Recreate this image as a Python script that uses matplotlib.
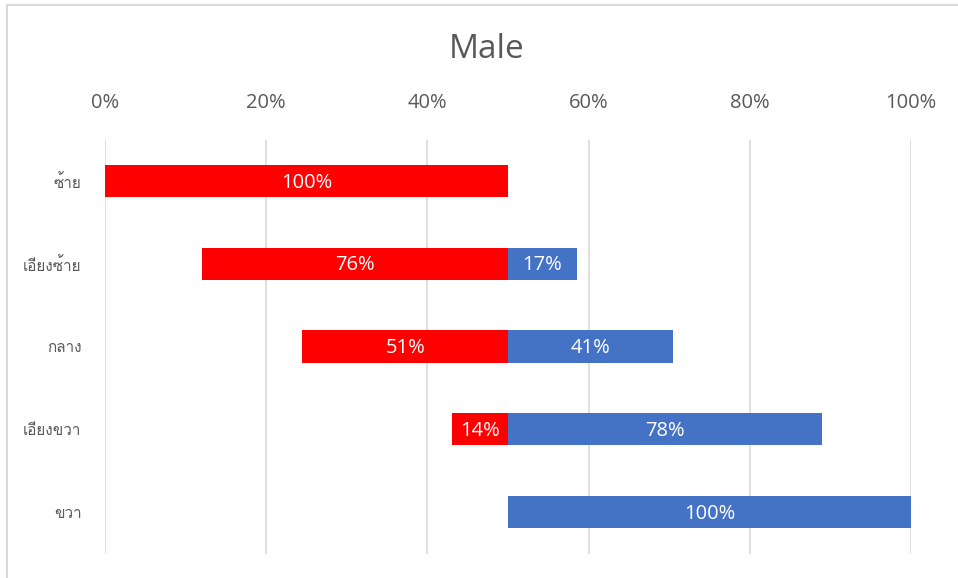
import matplotlib
matplotlib.use("Agg")
import matplotlib.pyplot as plt
from matplotlib import font_manager
from matplotlib.ft2font import FT2Font
from matplotlib.patches import Rectangle

# data
categories = ["ซ้าย", "เอียงซ้าย", "กลาง", "เอียงขวา", "ขวา"]
left_vals = [100, 76, 51, 14, 0]    # red, drawn to the left of 50%
right_vals = [0, 17, 41, 78, 100]   # blue, drawn to the right of 50%
ticks = [0, 20, 40, 60, 80, 100]
tick_labels = ["0%", "20%", "40%", "60%", "80%", "100%"]


def find_thai_font():
    for f in font_manager.fontManager.ttflist:
        try:
            cmap = FT2Font(f.fname).get_charmap()
        except Exception:
            continue
        if ord("ก") in cmap and ord("ซ") in cmap:
            return f.name
    return None


thai = find_thai_font()
fams = ([thai] if thai else []) + ["Open Sans", "DejaVu Sans"]
plt.rcParams["font.family"] = ["Open Sans", "DejaVu Sans"]

fig = plt.figure(figsize=(9.58, 5.78), dpi=100)
fig.patches.append(Rectangle((7 / 958, -0.1), 1.2, 1 - 5 / 578 + 0.1,
                             transform=fig.transFigure, fill=False,
                             edgecolor="#d9d9d9", linewidth=1.5))
ax = fig.add_axes([105 / 958, 1 - 553.5 / 578, 806 / 958, 414 / 578])

y = list(range(len(categories)))
red = [v / 2 for v in left_vals]
blue = [v / 2 for v in right_vals]
ax.barh(y, red, left=[50 - r for r in red], height=0.39, color="#ff0000", zorder=3)
ax.barh(y, blue, left=50, height=0.39, color="#4472c4", zorder=3)

for i in y:
    if left_vals[i]:
        ax.text(50 - red[i] / 2, i + 0.02, f"{left_vals[i]}%", ha="center", va="center",
                color="white", fontsize=14.5, zorder=4)
    if right_vals[i]:
        ax.text(50 + blue[i] / 2, i + 0.02, f"{right_vals[i]}%", ha="center", va="center",
                color="white", fontsize=14.5, zorder=4)

ax.set_xlim(0, 100)
ax.set_ylim(len(categories) - 0.5, -0.5)
ax.set_xticks(ticks)
ax.set_xticklabels(tick_labels, fontsize=14.5, color="#595959")
ax.xaxis.tick_top()
ax.tick_params(axis="x", length=0, pad=19)
ax.set_yticks(y)
ax.set_yticklabels(categories, fontsize=11, color="#595959", family=fams)
ax.tick_params(axis="y", length=0, pad=17)
ax.grid(axis="x", color="#d9d9d9", linewidth=1.2, zorder=0)
for s in ax.spines.values():
    s.set_visible(False)

fig.text(487 / 958, 1 - 49 / 578, "Male", ha="center", va="center",
         fontsize=24, color="#595959")

fig.savefig("out.png", dpi=100)
